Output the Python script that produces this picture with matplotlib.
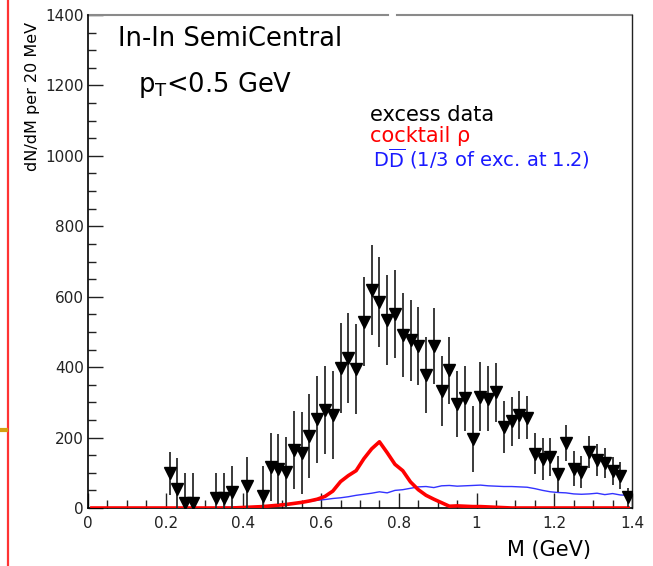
import numpy as np
import matplotlib
matplotlib.use('Agg')
import matplotlib.pyplot as plt
from matplotlib.lines import Line2D
from matplotlib.ticker import MultipleLocator

plt.rcParams['font.family'] = 'DejaVu Sans'
plt.rcParams['mathtext.fontset'] = 'dejavusans'

# excess data, 20 MeV bins (bins with negative content are not shown)
data_mass = [0.21, 0.23, 0.25, 0.27, 0.33, 0.35, 0.37, 0.41, 0.45,
             0.47, 0.49, 0.51, 0.53, 0.55, 0.57, 0.59, 0.61, 0.63, 0.65,
             0.67, 0.69, 0.71, 0.73, 0.75, 0.77, 0.79, 0.81, 0.83, 0.85,
             0.87, 0.89, 0.91, 0.93, 0.95, 0.97, 0.99, 1.01, 1.03, 1.05,
             1.07, 1.09, 1.11, 1.13, 1.15, 1.17, 1.19, 1.21, 1.23, 1.25,
             1.27, 1.29, 1.31, 1.33, 1.35, 1.37, 1.39]
data_yield = [98, 53, 15, 15, 27, 27, 46, 63, 34,
              117, 110, 102, 165, 157, 205, 252, 277, 264, 398,
              427, 395, 529, 620, 584, 534, 550, 491, 476, 460,
              378, 460, 333, 391, 296, 311, 196, 316, 310, 328,
              230, 246, 265, 256, 154, 139, 145, 96, 185, 112,
              103, 159, 136, 127, 105, 92, 30]
data_err = [62, 88, 84, 84, 72, 73, 74, 81, 86,
            97, 100, 100, 111, 116, 119, 123, 125, 125, 128,
            128, 128, 127, 128, 128, 128, 125, 120, 116, 112,
            107, 107, 100, 96, 93, 91, 94, 98, 92, 83,
            74, 70, 68, 61, 58, 59, 55, 51, 52, 50,
            46, 45, 45, 42, 40, 39, 28]

# histogram bin centres for the curves
bin_mass = np.arange(0.01, 1.40, 0.02)

# cocktail rho
rho_yield = [0, 0, 0, 0, 0, 0, 0, 0, 0, 0,
             0, 0, 0, 0, 0, 0, 0, 0, 0, 1,
             2, 3, 4, 6, 8, 10, 13, 16, 20, 25,
             33, 48, 75, 92, 106, 140, 168, 188, 157, 124,
             106, 74, 52, 36, 25, 15, 5, 6, 5, 4,
             4, 3, 2, 1, 0, 0, 0, 0, 0, 0,
             0, 0, 0, 0, 0, 0, 0, 0, 0, 0]

# open charm, normalised to 1/3 of the excess at 1.2 GeV
dd_yield = [0, 0, 0, 0, 0, 0, 0, 0, 0, 0,
            0, 0, 0, 0, 0, 1, 1, 2, 2, 3,
            3, 4, 5, 6, 9, 11, 14, 16, 19, 22,
            24, 27, 29, 32, 36, 39, 42, 46, 43, 50,
            52, 56, 60, 61, 58, 63, 64, 62, 63, 64,
            65, 63, 62, 61, 61, 60, 59, 55, 50, 46,
            44, 43, 40, 39, 40, 42, 38, 41, 37, 36]

fig = plt.figure(figsize=(6.53, 5.66), dpi=100)
ax = fig.add_axes([88/653, 1 - 508/566, 544/653, 493/566])

ax.plot(bin_mass, dd_yield, color='#3333ff', lw=1.0, zorder=2)
ax.plot(bin_mass, rho_yield, color='#ff0000', lw=2.6, zorder=3)
ax.errorbar(data_mass, data_yield, yerr=data_err, fmt='v', color='black',
            ecolor='#2b2b2b', elinewidth=1.3, capsize=0, ms=8.5, zorder=4,
            clip_on=True)

ax.set_xlim(0, 1.4)
ax.set_ylim(0, 1400)
ax.xaxis.set_major_locator(MultipleLocator(0.2))
ax.xaxis.set_minor_locator(MultipleLocator(0.05))
ax.yaxis.set_major_locator(MultipleLocator(200))
ax.yaxis.set_minor_locator(MultipleLocator(50))
ax.set_xticks([0, 0.2, 0.4, 0.6, 0.8, 1.0, 1.2, 1.4])
ax.set_xticklabels(['0', '0.2', '0.4', '0.6', '0.8', '1', '1.2', '1.4'])
ax.tick_params(which='both', direction='in', top=False, right=False,
               colors='#222222', labelsize=11)
ax.tick_params(which='major', length=11, width=1.0)
ax.tick_params(which='minor', length=6, width=1.0)
ax.tick_params(axis='x', pad=6)
ax.tick_params(axis='y', pad=3)

for side in ['left', 'bottom']:
    ax.spines[side].set_color('black')
    ax.spines[side].set_linewidth(1.2)
ax.spines['right'].set_color('#222222')
ax.spines['right'].set_linewidth(1.0)
ax.spines['top'].set_visible(False)
# top frame, broken near the middle
ax.add_line(Line2D([0, 0.551], [1, 1], transform=ax.transAxes,
                   color='#8a8a8a', lw=1.5, clip_on=False))
ax.add_line(Line2D([0.568, 1], [1, 1], transform=ax.transAxes,
                   color='#8a8a8a', lw=1.5, clip_on=False))

ax.set_ylabel('dN/dM per 20 MeV', fontsize=11.5)
ax.yaxis.set_label_coords(-0.088, 0.835)
ax.set_xlabel('M (GeV)', fontsize=15, ha='right')
ax.xaxis.set_label_coords(0.925, -0.065)

ax.text(0.055, 0.938, 'In-In SemiCentral', transform=ax.transAxes,
        fontsize=18.5, va='baseline', ha='left')
ax.text(0.092, 0.844, r'p$_{\rm T}$<0.5 GeV', transform=ax.transAxes,
        fontsize=18.5, va='baseline', ha='left')
ax.text(0.518, 0.786, 'excess data', transform=ax.transAxes,
        fontsize=15, va='baseline', ha='left', color='black')
ax.text(0.518, 0.742, 'cocktail ρ', transform=ax.transAxes,
        fontsize=15, va='baseline', ha='left', color='#ff0000')
ax.text(0.524, 0.692, r'D$\overline{\rm D}$ (1/3 of exc. at 1.2)',
        transform=ax.transAxes, fontsize=14, va='baseline', ha='left',
        color='#1a1aff')

# slide margin marks
fig.add_artist(Line2D([8/653, 8/653], [0, 1], color='#ff3333', lw=1.6))
fig.add_artist(Line2D([0, 6/653], [1 - 430/566, 1 - 430/566],
                      color='#d4a010', lw=3))

fig.savefig('out.png', dpi=100)
